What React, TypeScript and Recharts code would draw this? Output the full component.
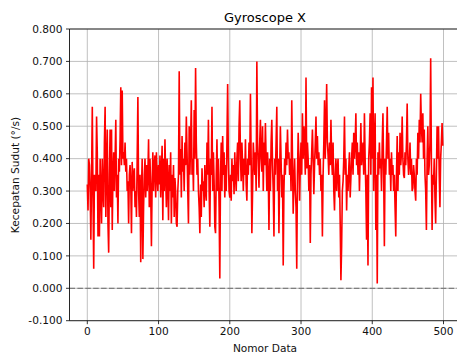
import React from "react";
import { LineChart, Line, XAxis, YAxis, CartesianGrid, ReferenceLine } from "recharts";

const gyroX: number[] = [
  0.32, 0.24, 0.40, 0.38, 0.30, 0.15, 0.35, 0.56, 0.28, 0.06,
  0.35, 0.31, 0.30, 0.53, 0.42, 0.16, 0.35, 0.16, 0.40, 0.30,
  0.20, 0.40, 0.30, 0.25, 0.45, 0.56, 0.22, 0.38, 0.49, 0.20,
  0.11, 0.35, 0.49, 0.25, 0.49, 0.18, 0.35, 0.42, 0.30, 0.40,
  0.52, 0.28, 0.35, 0.20, 0.40, 0.36, 0.46, 0.62, 0.38, 0.61,
  0.40, 0.42, 0.38, 0.45, 0.36, 0.40, 0.30, 0.33, 0.20, 0.35,
  0.38, 0.32, 0.17, 0.39, 0.30, 0.35, 0.37, 0.25, 0.30, 0.22,
  0.40, 0.59, 0.30, 0.22, 0.35, 0.08, 0.30, 0.40, 0.09, 0.25,
  0.35, 0.40, 0.28, 0.38, 0.30, 0.35, 0.46, 0.25, 0.40, 0.30,
  0.13, 0.32, 0.42, 0.30, 0.38, 0.41, 0.28, 0.42, 0.35, 0.30,
  0.38, 0.32, 0.41, 0.28, 0.36, 0.44, 0.21, 0.40, 0.30, 0.46,
  0.35, 0.25, 0.40, 0.33, 0.21, 0.38, 0.30, 0.42, 0.20, 0.35,
  0.28, 0.38, 0.22, 0.34, 0.30, 0.20, 0.19, 0.30, 0.35, 0.67,
  0.35, 0.43, 0.28, 0.47, 0.36, 0.40, 0.30, 0.45, 0.38, 0.53,
  0.42, 0.30, 0.20, 0.50, 0.35, 0.45, 0.58, 0.35, 0.40, 0.30,
  0.55, 0.40, 0.68, 0.45, 0.35, 0.40, 0.30, 0.25, 0.17, 0.32,
  0.22, 0.37, 0.30, 0.33, 0.25, 0.38, 0.30, 0.27, 0.45, 0.35,
  0.52, 0.30, 0.19, 0.40, 0.35, 0.56, 0.30, 0.42, 0.33, 0.19,
  0.17, 0.35, 0.46, 0.30, 0.40, 0.25, 0.03, 0.35, 0.45, 0.30,
  0.47, 0.35, 0.42, 0.28, 0.38, 0.30, 0.45, 0.63, 0.40, 0.30,
  0.28, 0.35, 0.27, 0.40, 0.33, 0.38, 0.29, 0.42, 0.35, 0.30,
  0.40, 0.45, 0.33, 0.50, 0.58, 0.40, 0.33, 0.45, 0.38, 0.30,
  0.40, 0.35, 0.46, 0.32, 0.27, 0.40, 0.35, 0.45, 0.38, 0.60,
  0.40, 0.17, 0.30, 0.45, 0.40, 0.35, 0.42, 0.30, 0.70, 0.45,
  0.38, 0.31, 0.45, 0.52, 0.40, 0.36, 0.50, 0.30, 0.45, 0.38,
  0.51, 0.40, 0.30, 0.42, 0.35, 0.18, 0.40, 0.30, 0.45, 0.52,
  0.38, 0.30, 0.16, 0.40, 0.35, 0.45, 0.56, 0.30, 0.40, 0.17,
  0.35, 0.50, 0.40, 0.28, 0.35, 0.07, 0.30, 0.40, 0.35, 0.45,
  0.38, 0.49, 0.40, 0.42, 0.35, 0.40, 0.30, 0.58, 0.40, 0.23,
  0.33, 0.40, 0.30, 0.25, 0.06, 0.35, 0.48, 0.40, 0.27, 0.38,
  0.45, 0.35, 0.54, 0.40, 0.50, 0.45, 0.35, 0.65, 0.37, 0.45,
  0.40, 0.30, 0.38, 0.14, 0.35, 0.42, 0.49, 0.40, 0.29, 0.38,
  0.45, 0.53, 0.40, 0.47, 0.38, 0.42, 0.35, 0.40, 0.30, 0.35,
  0.16, 0.35, 0.45, 0.58, 0.40, 0.50, 0.63, 0.45, 0.41, 0.35,
  0.45, 0.38, 0.52, 0.40, 0.35, 0.45, 0.30, 0.24, 0.35, 0.40,
  0.30, 0.37, 0.40, 0.28, 0.35, 0.20, 0.025, 0.13, 0.30, 0.33,
  0.40, 0.53, 0.35, 0.40, 0.24, 0.35, 0.30, 0.37, 0.42, 0.28,
  0.34, 0.40, 0.45, 0.35, 0.48, 0.40, 0.45, 0.54, 0.38, 0.45,
  0.35, 0.42, 0.30, 0.40, 0.51, 0.38, 0.42, 0.45, 0.35, 0.54,
  0.40, 0.30, 0.15, 0.35, 0.07, 0.40, 0.45, 0.54, 0.35, 0.62,
  0.40, 0.65, 0.30, 0.45, 0.54, 0.18, 0.35, 0.015, 0.42, 0.35,
  0.45, 0.37, 0.40, 0.30, 0.45, 0.54, 0.35, 0.13, 0.40, 0.35,
  0.45, 0.56, 0.40, 0.48, 0.35, 0.40, 0.30, 0.42, 0.35, 0.38,
  0.30, 0.35, 0.25, 0.16, 0.35, 0.47, 0.30, 0.42, 0.35, 0.48,
  0.38, 0.42, 0.53, 0.40, 0.35, 0.34, 0.42, 0.38, 0.45, 0.57,
  0.40, 0.35, 0.39, 0.45, 0.35, 0.40, 0.30, 0.31, 0.38, 0.35,
  0.30, 0.27, 0.40, 0.35, 0.48, 0.40, 0.52, 0.45, 0.60, 0.50,
  0.45, 0.54, 0.40, 0.49, 0.35, 0.30, 0.18, 0.40, 0.50, 0.35,
  0.38, 0.45, 0.71, 0.40, 0.18, 0.35, 0.32, 0.40, 0.28, 0.20,
  0.35, 0.50, 0.40, 0.50, 0.35, 0.25, 0.40, 0.45, 0.51, 0.44,
];

const xTicks: number[] = [0, 100, 200, 300, 400, 500];
const yTicks: number[] = [-0.1, 0, 0.1, 0.2, 0.3, 0.4, 0.5, 0.6, 0.7, 0.8];
const title = "Gyroscope X";
const xLabel = "Nomor Data";
const yLabel = "Kecepatan Sudut (°/s)";

const data = gyroX.map((v, i) => ({ i, v }));

const FONT = "DejaVu Sans";
const FS = 10.6;

export default function App() {
  const W = 470;
  const H = 356;
  return (
    <div style={{ position: "absolute", left: 0, top: 0, width: 457, height: 356, overflow: "hidden", background: "#fff" }}>
      <LineChart
        width={W}
        height={H}
        data={data}
        margin={{ top: 29, right: W - 460.6, left: 0, bottom: 0 }}
      >
        <CartesianGrid stroke="#b0b0b0" strokeWidth={0.8} />
        <XAxis
          dataKey="i"
          type="number"
          domain={[-25, 524]}
          ticks={xTicks}
          allowDataOverflow
          height={35.3}
          tickSize={3.5}
          tickMargin={3.5}
          stroke="#000"
          axisLine={{ stroke: "#000", strokeWidth: 0.8 }}
          tickLine={{ stroke: "#000", strokeWidth: 0.8 }}
          tick={{ fontFamily: FONT, fontSize: FS, fill: "#111" }}
          interval={0}
        />
        <YAxis
          type="number"
          domain={[-0.1, 0.8]}
          ticks={yTicks}
          allowDataOverflow
          width={69.5}
          tickSize={3.5}
          tickMargin={3.5}
          axisLine={{ stroke: "#000", strokeWidth: 0.8 }}
          tickLine={{ stroke: "#000", strokeWidth: 0.8 }}
          tick={{ fontFamily: FONT, fontSize: FS, fill: "#111" }}
          tickFormatter={(v: number) => v.toFixed(3)}
          interval={0}
        />
        <ReferenceLine y={0.8} stroke="#000" strokeWidth={0.8} />
        <ReferenceLine y={0} stroke="#7f7f7f" strokeWidth={1.2} strokeDasharray="5.5 2.4" />
        <Line
          type="linear"
          dataKey="v"
          stroke="#ff0000"
          strokeWidth={1.6}
          dot={false}
          isAnimationActive={false}
        />
      </LineChart>
      <svg width={457} height={356} style={{ position: "absolute", left: 0, top: 0, pointerEvents: "none" }}>
        <text x={265} y={21.5} textAnchor="middle" fontFamily={FONT} fontSize={13} fill="#000">{title}</text>
        <text x={265} y={352} textAnchor="middle" fontFamily={FONT} fontSize={FS} fill="#111">{xLabel}</text>
        <text x={19} y={175} textAnchor="middle" fontFamily={FONT} fontSize={FS} fill="#111" transform="rotate(-90 19 175)">{yLabel}</text>
      </svg>
    </div>
  );
}
